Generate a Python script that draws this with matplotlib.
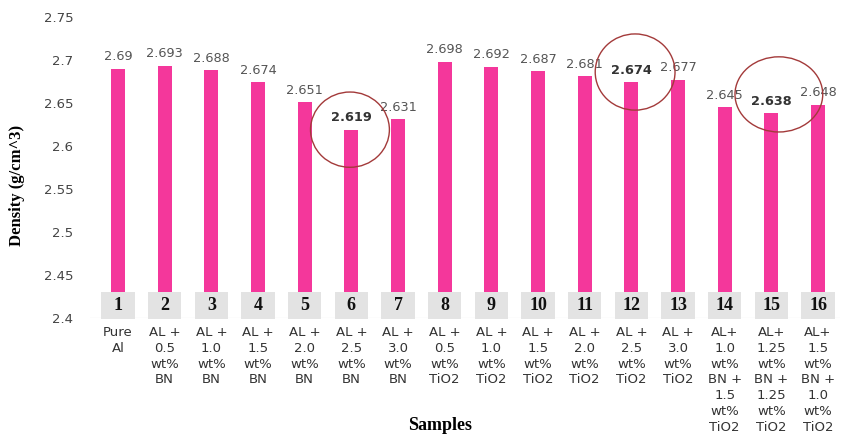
import matplotlib
matplotlib.use('Agg')
from matplotlib import pyplot as plt
from matplotlib.patches import Ellipse, Rectangle
import numpy as np

samples = ['1', '2', '3', '4', '5', '6', '7', '8',
           '9', '10', '11', '12', '13', '14', '15', '16']
labels = ['Pure\nAl',
          'AL +\n0.5\nwt%\nBN', 'AL +\n1.0\nwt%\nBN', 'AL +\n1.5\nwt%\nBN',
          'AL +\n2.0\nwt%\nBN', 'AL +\n2.5\nwt%\nBN', 'AL +\n3.0\nwt%\nBN',
          'AL +\n0.5\nwt%\nTiO2', 'AL +\n1.0\nwt%\nTiO2', 'AL +\n1.5\nwt%\nTiO2',
          'AL +\n2.0\nwt%\nTiO2', 'AL +\n2.5\nwt%\nTiO2', 'AL +\n3.0\nwt%\nTiO2',
          'AL+\n1.0\nwt%\nBN +\n1.5\nwt%\nTiO2',
          'AL+\n1.25\nwt%\nBN +\n1.25\nwt%\nTiO2',
          'AL+\n1.5\nwt%\nBN +\n1.0\nwt%\nTiO2']
density = [2.69, 2.693, 2.688, 2.674, 2.651, 2.619, 2.631, 2.698,
           2.692, 2.687, 2.681, 2.674, 2.677, 2.645, 2.638, 2.648]
value_text = ['2.69', '2.693', '2.688', '2.674', '2.651', '2.619', '2.631', '2.698',
              '2.692', '2.687', '2.681', '2.674', '2.677', '2.645', '2.638', '2.648']
highlight = [5, 11, 14]  # circled samples (6, 12, 15)

pink = '#F4379B'
x = np.arange(len(density))

fig = plt.figure(figsize=(8.43, 4.42), dpi=100)
ax = fig.add_axes([90/843, 1-318/442, 750/843, 301/442])

ax.bar(x, np.array(density) - 2.4, bottom=2.4, width=0.3, color=pink, zorder=2)
ax.set_ylim(2.4, 2.75)
ax.set_xlim(-0.6, 15.47)
ax.set_yticks([2.4, 2.45, 2.5, 2.55, 2.6, 2.65, 2.7, 2.75])
ax.set_yticklabels(['2.4', '2.45', '2.5', '2.55', '2.6', '2.65', '2.7', '2.75'])
ax.tick_params(axis='y', length=0, pad=12, labelsize=9.5, labelcolor='#444444')
ax.tick_params(axis='x', length=0, pad=6, labelsize=9.5, labelcolor='#333333')
ax.set_xticks(x)
ax.set_xticklabels(labels, linespacing=1.27, va='top')
for s in ax.spines.values():
    s.set_visible(False)
ax.axhline(2.4, color='#d9d9d9', lw=0.8, zorder=1)

# value labels
for i, v in enumerate(density):
    bold = i in highlight
    ax.annotate(value_text[i], (i, v), xytext=(0, 4), textcoords='offset points',
                ha='center', va='bottom', fontsize=9.3,
                fontweight='bold' if bold else 'normal',
                color='#333333' if bold else '#555555')

# numbered grey boxes
for i, s in enumerate(samples):
    ax.add_patch(Rectangle((i - 0.355, 2.3988), 0.71, 0.0315, facecolor='#e3e3e3',
                           edgecolor='none', clip_on=False, zorder=3))
    ax.text(i, 2.4145, s, ha='center', va='center', fontsize=13, fontweight='bold',
            family='Liberation Serif', color='#111111', zorder=4)

# red circles around highlighted samples
circ = [(5, -0.03, 0.0, 1.69, 0.0875), (11, 0.08, 0.012, 1.71, 0.0886),
        (14, 0.16, 0.022, 1.88, 0.0874)]
for i, dx, dy, w, h in circ:
    ax.add_patch(Ellipse((i + dx, density[i] + dy), w, h, fill=False,
                         edgecolor='#a33a3a', lw=1.0, zorder=5, clip_on=False))

ax.set_ylabel('Density (g/cm^3)', fontsize=12, fontweight='bold',
              family='Liberation Serif')
ax.yaxis.set_label_coords(-0.087, 0.44)
fig.text(440/843, 1-425/442, 'Samples', ha='center', va='center', fontsize=13,
         fontweight='bold', family='Liberation Serif')

fig.savefig('out.png', dpi=100)
